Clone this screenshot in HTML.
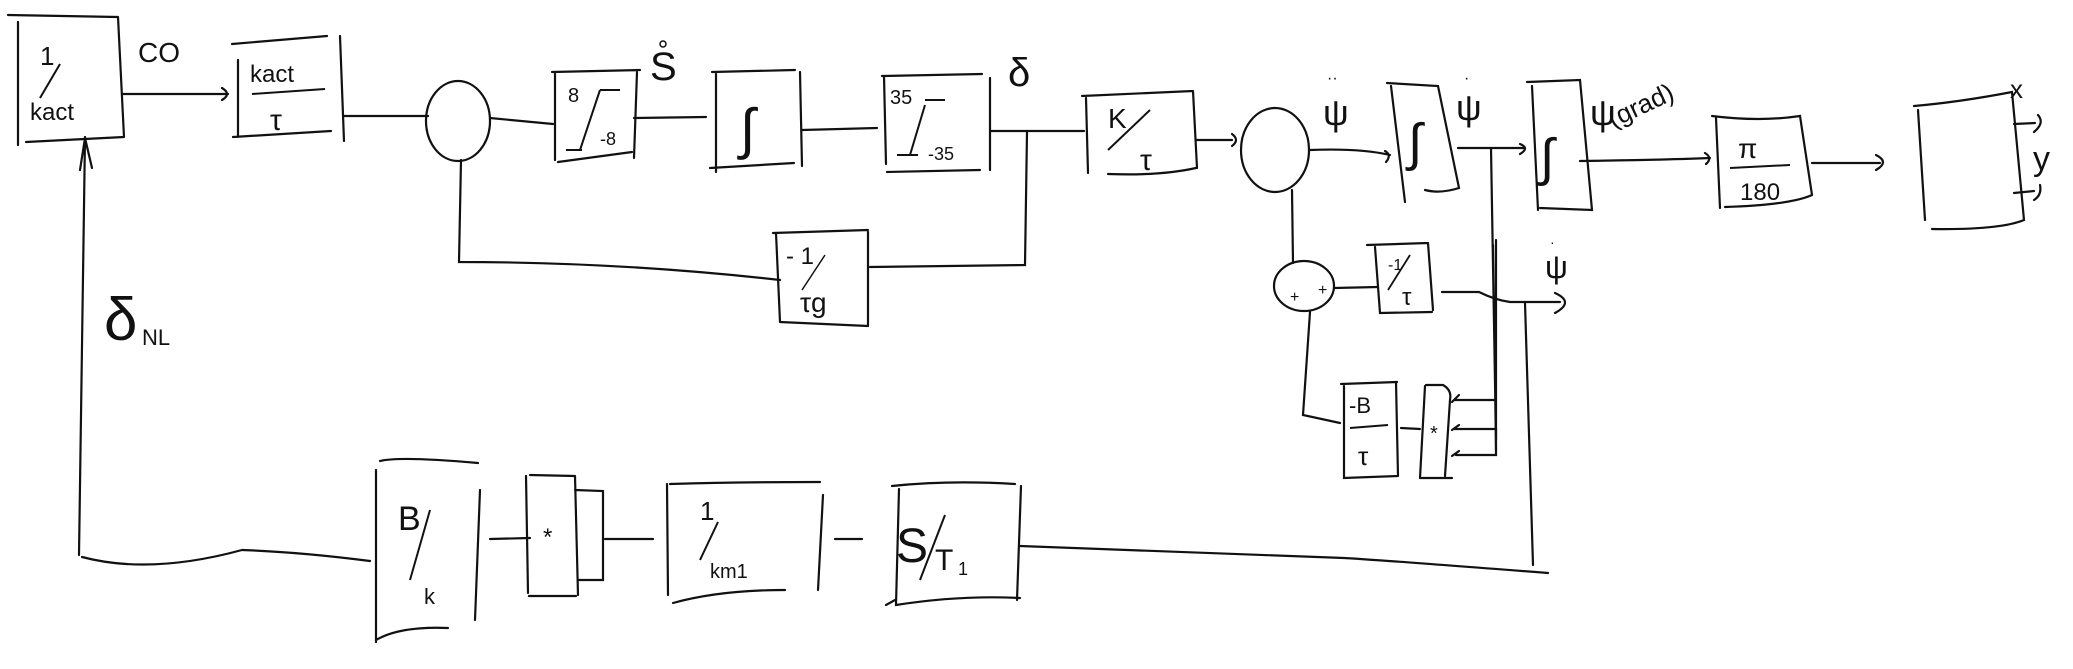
<!DOCTYPE html>
<html><head><meta charset="utf-8"><style>
html,body{margin:0;padding:0;background:#fff;}
svg{display:block}
text{font-family:"Liberation Sans",sans-serif;fill:#111;}
</style></head><body>
<svg width="2073" height="669" viewBox="0 0 2073 669" xmlns="http://www.w3.org/2000/svg">
<g fill="none" stroke="#111" stroke-width="2.2" stroke-linecap="round">
<path d="M8 15 L118 17 M18 22 L18 145 M118 17 L124 137 M26 142 L124 137"/>
<path d="M122 94 L228 94 M222 88 Q232 94 222 100"/>
<path d="M232 44 L327 36 M238 60 L238 137 M233 137 L331 131 M340 36 L344 141"/>
<path d="M344 116 L428 116"/>
<ellipse cx="458" cy="121" rx="32" ry="40"/>
<path d="M490 118 L553 124"/>
<path d="M552 72 L640 70 M555 73 L555 160 M637 72 L634 158 M558 162 L632 152"/>
<path d="M634 118 L706 117"/>
<path d="M712 72 L795 70 M716 72 L716 172 M800 72 L802 166 M710 168 L794 163"/>
<path d="M802 130 L877 128"/>
<path d="M882 76 L982 74 M884 76 L886 164 M990 78 L990 170 M887 172 L980 170"/>
<path d="M990 131 L1084 131"/>
<path d="M461 160 L459 262 Q620 262 780 280 M870 267 L1025 265 L1027 132"/>
<path d="M773 233 L868 230 M776 233 L780 322 M868 232 L868 326 M780 322 L868 326"/>
<path d="M1082 96 L1193 91 M1086 98 L1088 173 M1193 91 L1197 168 M1108 174 Q1160 176 1196 168"/>
<path d="M1196 140 L1232 140 M1232 134 Q1240 140 1232 146"/>
<ellipse cx="1275" cy="150" rx="34" ry="42"/>
<path d="M1310 150 Q1360 148 1390 155 M1385 151 Q1392 155 1386 162"/>
<path d="M1387 83 L1438 86 L1459 188 Q1440 194 1425 190 M1391 86 L1405 202"/>
<path d="M1458 148 L1525 148 M1520 144 Q1530 148 1520 154"/>
<path d="M1527 82 L1580 80 L1592 210 L1540 208 M1532 86 L1538 210"/>
<path d="M1580 161 Q1660 160 1710 158 M1705 153 Q1713 158 1706 164"/>
<path d="M1712 116 Q1760 122 1800 116 L1812 195 Q1790 205 1725 207 M1716 118 L1720 208"/>
<path d="M1812 163 L1880 163 M1876 155 Q1890 162 1876 170"/>
<path d="M1914 106 Q1960 102 2012 92 L2024 220 Q2000 230 1932 229 M1918 110 L1925 220"/>
<path d="M2014 124 L2035 123 M2038 115 Q2045 123 2034 132 M2014 193 L2034 191 M2040 185 Q2042 195 2034 200"/>
<path d="M1491 148 L1496 440 L1496 240 M1493 245 L1496 450"/>
<path d="M1292 190 L1293 263"/>
<ellipse cx="1304" cy="286" rx="30" ry="25"/>
<path d="M1334 288 L1378 287"/>
<path d="M1367 245 L1428 243 M1375 247 L1380 313 L1432 312 M1428 243 L1433 310"/>
<path d="M1442 292 L1479 292 Q1495 300 1510 302 L1560 302 M1555 293 Q1575 302 1555 313"/>
<path d="M1525 303 L1533 565"/>
<path d="M1310 312 L1303 415 L1340 423"/>
<path d="M1341 384 L1397 382 M1344 386 L1344 478 L1398 476 M1396 382 L1398 476"/>
<path d="M1401 428 L1420 429"/>
<path d="M1426 385 L1443 385 Q1452 390 1450 400 L1445 476 M1425 386 L1420 478 M1420 478 L1452 478"/>
<path d="M1454 400 L1496 400 M1454 429 L1496 429 L1496 455 L1456 455 M1459 395 L1452 402 M1459 425 L1452 430 M1459 451 L1452 456"/>
<path d="M1548 573 Q1380 560 1344 558 L1020 546"/>
<path d="M892 486 Q950 480 1015 484 M899 489 L896 605 Q960 595 1020 598 M1021 486 L1017 600 M886 605 L895 600"/>
<path d="M835 539 L862 539"/>
<path d="M670 484 Q740 482 820 482 M667 484 L668 595 M673 603 Q720 590 785 590 M823 495 L818 590"/>
<path d="M605 539 L653 539"/>
<path d="M530 475 L575 476 M526 476 L528 593 M529 596 L576 596 M575 476 L578 595 M575 490 L603 491 L603 580 L578 580"/>
<path d="M490 539 L530 538"/>
<path d="M380 461 Q400 456 478 463 M376 470 L376 642 M376 640 Q400 626 448 628 M480 490 L475 620"/>
<path d="M370 561 Q300 552 242 550 Q150 575 82 557"/>
<path d="M79 555 L85 137 M80 170 L85 138 L92 168"/>
</g>
<g font-size="26">
<text x="40" y="65">1</text>
<path d="M40 98 L60 64" stroke="#111" stroke-width="2" fill="none"/>
<text x="30" y="120" font-size="24">kact</text>
<text x="138" y="62" font-size="28">CO</text>
<text x="250" y="82" font-size="24">kact</text>
<path d="M252 94 L325 89" stroke="#111" stroke-width="2"/>
<text x="270" y="130" font-size="30">τ</text>
<text x="568" y="102" font-size="20">8</text>
<text x="600" y="145" font-size="18">-8</text>
<path d="M580 150 L600 90 M600 90 L620 90 M566 150 L582 150" stroke="#111" stroke-width="2"/>
<text x="650" y="80" font-size="40">S</text>
<circle cx="663" cy="44" r="3" fill="none" stroke="#111" stroke-width="1.5"/>
<text x="740" y="148" font-size="56">∫</text>
<text x="890" y="104" font-size="20">35</text>
<text x="928" y="160" font-size="18">-35</text>
<path d="M910 155 L925 105 M925 100 L945 100 M897 155 L918 155" stroke="#111" stroke-width="2"/>
<text x="1008" y="86" font-size="40">δ</text>
<text x="1108" y="128" font-size="28">K</text>
<path d="M1108 150 L1150 110" stroke="#111" stroke-width="2"/>
<text x="1140" y="170" font-size="30">τ</text>
<text x="1323" y="125" font-size="36">ψ</text>
<text x="1327" y="83" font-size="16">··</text>
<text x="1408" y="160" font-size="52">∫</text>
<text x="1456" y="120" font-size="36">ψ</text>
<text x="1464" y="83" font-size="16">·</text>
<text x="1540" y="175" font-size="52">∫</text>
<text x="1590" y="125" font-size="36">ψ</text>
<text x="1613" y="128" font-size="26" transform="rotate(-25 1613 128)">(grad)</text>
<text x="1738" y="158" font-size="28">π</text>
<path d="M1730 168 L1790 165" stroke="#111" stroke-width="2"/>
<text x="1740" y="200" font-size="24">180</text>
<text x="2010" y="98" font-size="26">x</text>
<text x="2033" y="170" font-size="34">y</text>
<text x="1388" y="270" font-size="16">-1</text>
<path d="M1388 290 L1410 255" stroke="#111" stroke-width="1.8"/>
<text x="1402" y="305" font-size="24">τ</text>
<text x="1290" y="302" font-size="16">+</text>
<text x="1318" y="295" font-size="16">+</text>
<text x="1545" y="278" font-size="32">ψ</text>
<text x="1550" y="247" font-size="14">·</text>
<text x="1349" y="413" font-size="22">-B</text>
<path d="M1350 428 L1388 425" stroke="#111" stroke-width="2"/>
<text x="1358" y="465" font-size="26">τ</text>
<text x="1430" y="440" font-size="20">*</text>
<text x="786" y="264" font-size="24">- 1</text>
<path d="M802 290 L825 255" stroke="#111" stroke-width="1.5" fill="none"/>
<text x="800" y="312" font-size="28">τg</text>
<text x="104" y="340" font-size="60">δ</text>
<text x="142" y="345" font-size="22">NL</text>
<text x="398" y="530" font-size="34">B</text>
<path d="M410 580 L430 510" stroke="#111" stroke-width="2"/>
<text x="424" y="604" font-size="22">k</text>
<text x="543" y="545" font-size="24">*</text>
<text x="700" y="520" font-size="26">1</text>
<path d="M700 560 L718 522" stroke="#111" stroke-width="2"/>
<text x="710" y="578" font-size="20">km1</text>
<text x="896" y="562" font-size="48">S</text>
<path d="M920 580 L945 515" stroke="#111" stroke-width="2"/>
<text x="935" y="570" font-size="30">T</text>
<text x="958" y="575" font-size="18">1</text>
</g>
</svg>
</body></html>
